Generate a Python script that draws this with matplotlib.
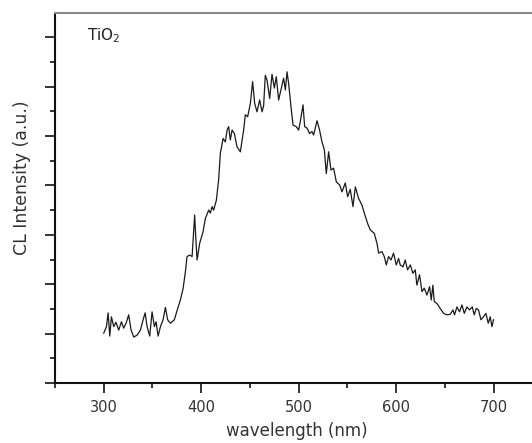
import matplotlib
matplotlib.use("Agg")
import matplotlib.pyplot as plt
from matplotlib.ticker import MultipleLocator, NullFormatter

wavelength = [300.0, 302.8, 304.5, 306.2, 307.9, 310.3, 312.5, 315.4, 318.2, 320.5,
              323.3, 325.6, 328.1, 330.8, 334.3, 337.6, 340.4, 342.5, 344.5, 347.2,
              349.6, 352.0, 353.7, 355.8, 358.2, 360.9, 363.3, 365.6, 368.4, 372.5,
              375.9, 378.7, 381.5, 383.8, 385.5, 388.2, 390.7, 392.3, 393.3, 394.4,
              395.8, 398.5, 401.9, 404.3, 407.7, 409.4, 411.2, 412.8, 415.6, 417.9,
              419.7, 422.5, 424.8, 426.6, 428.2, 429.9, 431.7, 434.1, 436.8, 440.2,
              443.6, 445.3, 447.7, 450.5, 452.8, 454.9, 457.3, 460.0, 462.5, 464.1,
              465.8, 467.6, 470.3, 472.7, 475.1, 477.1, 479.5, 482.3, 484.6, 486.4,
              488.1, 489.7, 492.2, 494.3, 497.6, 500.0, 501.7, 504.5, 506.2, 508.6,
              511.3, 513.7, 515.4, 518.9, 521.5, 524.0, 526.4, 528.4, 530.8, 533.2,
              535.9, 538.7, 542.1, 544.5, 547.9, 550.3, 553.0, 555.8, 558.2, 561.5,
              565.0, 567.4, 570.8, 573.5, 577.6, 580.4, 582.1, 585.5, 587.9, 590.0,
              592.3, 594.8, 597.4, 600.2, 602.6, 604.3, 607.1, 609.4, 611.8, 614.6,
              617.3, 619.7, 621.4, 624.1, 626.6, 628.9, 631.7, 634.4, 636.1, 637.8,
              639.2, 641.9, 645.3, 648.7, 652.2, 655.6, 658.4, 660.0, 662.5, 665.1,
              667.6, 670.0, 672.7, 675.4, 678.2, 680.2, 682.3, 684.6, 687.1, 689.7,
              692.2, 694.6, 696.6, 698.4, 700.0]

intensity = [101, 114, 142, 95, 134, 114, 123, 107, 124, 111,
             123, 138, 107, 93, 97, 107, 128, 142, 114, 95,
             144, 114, 124, 95, 114, 128, 153, 128, 121, 128,
             151, 168, 192, 225, 256, 259, 256, 310, 340, 296,
             249, 283, 306, 333, 350, 344, 357, 350, 370, 411,
             465, 495, 488, 512, 519, 492, 512, 505, 478, 468,
             512, 543, 539, 566, 610, 566, 549, 573, 549, 561,
             623, 613, 576, 625, 597, 620, 573, 597, 617, 593,
             630, 607, 559, 522, 519, 512, 529, 563, 519, 516,
             505, 509, 502, 531, 512, 488, 472, 424, 468, 431,
             435, 407, 401, 387, 405, 377, 392, 357, 397, 374,
             360, 344, 323, 310, 303, 283, 263, 266, 256, 239,
             256, 249, 263, 239, 252, 239, 235, 249, 229, 239,
             222, 229, 198, 219, 185, 192, 178, 195, 168, 198,
             165, 161, 151, 141, 138, 139, 148, 138, 154, 144,
             158, 141, 154, 148, 154, 138, 151, 148, 128, 134,
             141, 121, 134, 114, 128]

x_ticks = [300, 400, 500, 600, 700]
x_ticklabels = ["300", "400", "500", "600", "700"]

W, H = 532, 443
fig = plt.figure(figsize=(W / 100, H / 100), dpi=100)
left, right, top, bottom = 55, 532, 13, 383
ax = fig.add_axes([left / W, (H - bottom) / H, (right - left) / W, (bottom - top) / H])

ax.plot(wavelength, intensity, color="#1a1a1a", linewidth=0.9)

ax.set_xlim(250, 739.5)
ax.set_ylim(0, 749)

ax.set_xticks(x_ticks)
ax.set_xticklabels(x_ticklabels)
ax.xaxis.set_minor_locator(MultipleLocator(50))
ax.yaxis.set_major_locator(MultipleLocator(100))
ax.yaxis.set_minor_locator(MultipleLocator(50))
ax.yaxis.set_major_formatter(NullFormatter())

ax.tick_params(axis="both", which="major", direction="out", length=7, width=1.2,
               color="#111111", labelsize=10.5, labelcolor="#333333", pad=5)
ax.tick_params(axis="both", which="minor", direction="out", length=3.5, width=1.2,
               color="#111111")

for s in ("left", "bottom"):
    ax.spines[s].set_color("#111111")
    ax.spines[s].set_linewidth(1.5)
ax.spines["top"].set_color("#8a8a8a")
ax.spines["top"].set_linewidth(1.5)
ax.spines["right"].set_visible(False)

ax.set_xlabel("wavelength (nm)", fontsize=12, color="#333333")
ax.xaxis.set_label_coords((297 - left) / (right - left), -(431 - bottom) / (bottom - top))
ax.xaxis.label.set_va("center")
ax.set_ylabel("CL Intensity (a.u.)", fontsize=12.5, color="#333333")
ax.yaxis.set_label_coords((22 - left) / (right - left), (bottom - 178) / (bottom - top))
ax.yaxis.label.set_va("center")

ax.text((87 - left) / (right - left), (bottom - 40) / (bottom - top), "TiO$_2$",
        transform=ax.transAxes, fontsize=11, color="#222222", va="baseline")

fig.savefig("out.png", dpi=100)
